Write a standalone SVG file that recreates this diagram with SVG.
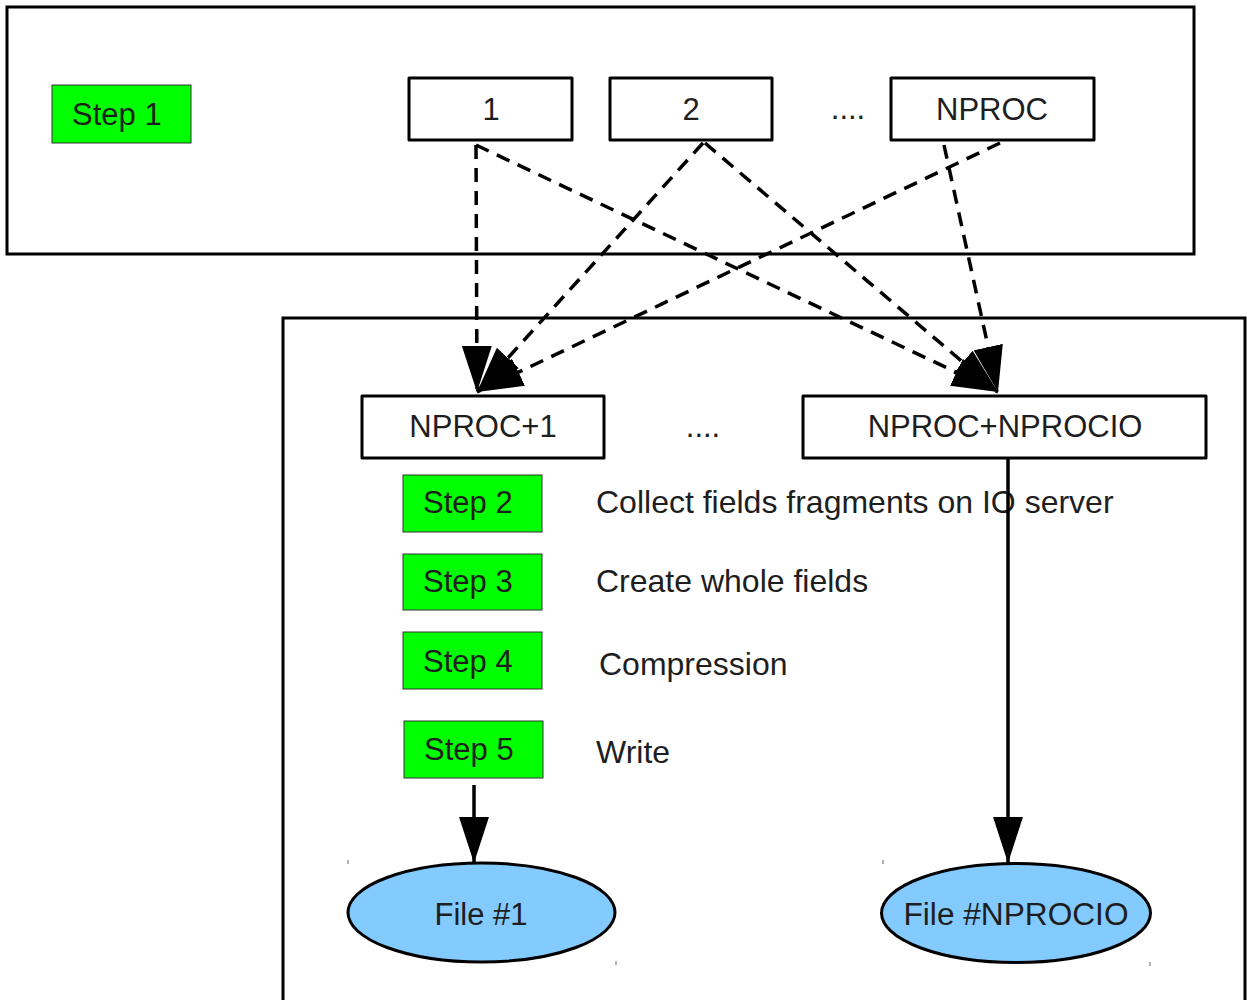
<svg xmlns="http://www.w3.org/2000/svg" width="1247" height="1000" viewBox="0 0 1247 1000">
  <defs>
    <style>
      .frame { fill: none; stroke: #000; stroke-width: 3; }
      .proc { fill: #fff; stroke: #000; stroke-width: 3; stroke-linejoin: round; }
      .step { fill: #00ff00; stroke: #333; stroke-width: 1; }
      .file { fill: #83caff; stroke: #000; stroke-width: 3; }
      .lbl { font-family: "Liberation Sans", Arial, sans-serif; font-size: 31px; fill: #1e1e1e; }
      .mid { text-anchor: middle; }
      .desc { font-size: 32px; }
      .dash { fill: none; stroke: #000; stroke-width: 3.5; stroke-dasharray: 14 9; }
      .solid { fill: none; stroke: #000; stroke-width: 3.5; }
      .tick { stroke: #666; stroke-width: 1; }
    </style>
    <marker id="head" markerUnits="userSpaceOnUse" markerWidth="46" markerHeight="30"
            viewBox="0 0 43 28" refX="43" refY="14" orient="auto">
      <path d="M0,0 L43,14 L0,28 Z" fill="#000"/>
    </marker>
  </defs>

  <!-- compute-server frame and IO-server frame -->
  <rect class="frame" x="7" y="7" width="1187" height="247"/>
  <rect class="frame" x="283" y="318" width="962" height="700"/>

  <!-- compute processes -->
  <g id="step1">
    <rect class="step" x="52" y="85" width="139" height="58"/>
    <text class="lbl" x="72" y="125">Step 1</text>
  </g>
  <g id="proc1">
    <rect class="proc" x="409" y="78" width="163" height="62"/>
    <text class="lbl mid" x="491" y="120">1</text>
  </g>
  <g id="proc2">
    <rect class="proc" x="610" y="78" width="162" height="62"/>
    <text class="lbl mid" x="691" y="120">2</text>
  </g>
  <g id="dots-top">
    <text class="lbl mid" x="848" y="119">....</text>
  </g>
  <g id="nproc">
    <rect class="proc" x="891" y="78" width="203" height="62"/>
    <text class="lbl mid" x="992" y="120">NPROC</text>
  </g>

  <!-- IO servers -->
  <g id="io1">
    <rect class="proc" x="362" y="396" width="242" height="62"/>
    <text class="lbl mid" x="483" y="437">NPROC+1</text>
  </g>
  <g id="dots-io">
    <text class="lbl mid" x="703" y="437">....</text>
  </g>
  <g id="ion">
    <rect class="proc" x="803" y="396" width="403" height="62"/>
    <text class="lbl mid" x="1005" y="437">NPROC+NPROCIO</text>
  </g>

  <!-- processing steps on the IO server -->
  <g id="step2">
    <rect class="step" x="403" y="475" width="139" height="57"/>
    <text class="lbl" x="423" y="513">Step 2</text>
    <text class="lbl desc" x="596" y="513">Collect fields fragments on IO server</text>
  </g>
  <g id="step3">
    <rect class="step" x="403" y="554" width="139" height="56"/>
    <text class="lbl" x="423" y="592">Step 3</text>
    <text class="lbl desc" x="596" y="592">Create whole fields</text>
  </g>
  <g id="step4">
    <rect class="step" x="403" y="632" width="139" height="57"/>
    <text class="lbl" x="423" y="672">Step 4</text>
    <text class="lbl desc" x="599" y="675">Compression</text>
  </g>
  <g id="step5">
    <rect class="step" x="404" y="721" width="139" height="57"/>
    <text class="lbl" x="424" y="760">Step 5</text>
    <text class="lbl desc" x="596" y="763">Write</text>
  </g>

  <!-- output files -->
  <g id="file1">
    <ellipse class="file" cx="481.5" cy="912.5" rx="133.5" ry="49.5"/>
    <text class="lbl mid" x="481" y="925">File #1</text>
    <line class="tick" x1="348" y1="860" x2="348" y2="864"/>
    <line class="tick" x1="616" y1="961" x2="616" y2="965"/>
  </g>
  <g id="fileN">
    <ellipse class="file" cx="1016" cy="913" rx="134.5" ry="49.5"/>
    <text class="lbl mid" x="1016" y="925" textLength="225" lengthAdjust="spacingAndGlyphs">File #NPROCIO</text>
    <line class="tick" x1="883" y1="860" x2="883" y2="864"/>
    <line class="tick" x1="1150" y1="962" x2="1150" y2="966"/>
  </g>

  <!-- connectors -->
  <g id="connectors">
    <path class="dash" d="M476,145 L477,392" marker-end="url(#head)"/>
    <path class="dash" d="M703,143 L477,392" marker-end="url(#head)"/>
    <path class="dash" d="M1000,143 L477,392" marker-end="url(#head)"/>
    <path class="dash" d="M476,145 L998,392" marker-end="url(#head)"/>
    <path class="dash" d="M705,143 L998,392" marker-end="url(#head)"/>
    <path class="dash" d="M944,145 L998,392" marker-end="url(#head)"/>
    <path class="solid" d="M474,785 L474,863" marker-end="url(#head)"/>
    <path class="solid" d="M1008,458 L1008,863" marker-end="url(#head)"/>
  </g>
</svg>
